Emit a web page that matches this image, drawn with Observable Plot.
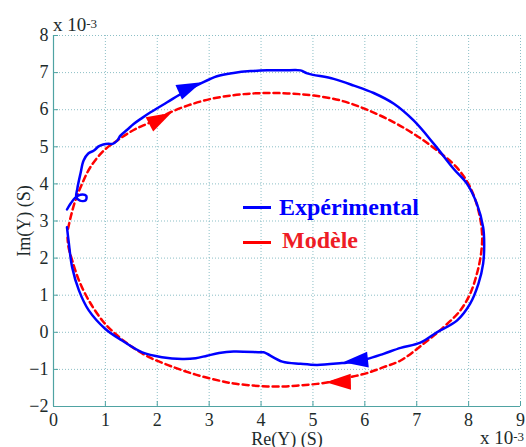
<!DOCTYPE html>
<html><head><meta charset="utf-8">
<script src="https://cdn.jsdelivr.net/npm/d3@7"></script>
<script src="https://cdn.jsdelivr.net/npm/@observablehq/plot@0.6"></script>
<style>
body{margin:0;background:#fff;font-family:"Times New Roman",Times,"Liberation Serif",Tinos,"DejaVu Serif",serif;}
#wrap{position:relative;width:526px;height:447px;font-family:"Times New Roman",Times,"Liberation Serif",Tinos,"DejaVu Serif",serif;overflow:hidden;}
#wrap svg, #wrap svg text{font-family:"Times New Roman",Times,"Liberation Serif",Tinos,"DejaVu Serif",serif !important;}
.ov{position:absolute;white-space:nowrap;line-height:1;}
.exp{font-size:19px;color:#1d2b2b;}
.exp sup{font-size:13px;position:relative;top:-3px;vertical-align:baseline;}
.leg{font-size:24px;font-weight:bold;}
.sw{position:absolute;height:3px;}
</style></head><body><div id="wrap"></div>
<script>
// Experimental (blue) curve, clockwise, x in 1e-3 S
const expX = [0.26,0.33,0.42,0.52,0.63,0.62,0.51,0.44,0.46,0.52,0.58,0.67,0.78,0.87,0.96,1.06,1.14,1.23,1.29,1.42,1.55,1.71,1.87,2.19,2.51,2.83,3.15,3.47,3.80,4.12,4.44,4.76,4.89,5.40,5.79,6.17,6.56,6.94,7.33,7.71,7.97,8.16,8.28,8.30,8.28,8.19,8.03,7.78,7.38,7.07,6.69,6.36,6.04,5.72,5.56,5.08,4.76,4.41,4.05,3.99,3.47,3.19,2.96,2.74,2.48,2.09,1.71,1.32,1.00,0.68,0.49,0.36,0.29,0.26];
const expY = [3.31,3.47,3.63,3.71,3.68,3.56,3.55,3.64,3.88,4.28,4.63,4.82,4.90,5.01,5.06,5.08,5.08,5.17,5.30,5.46,5.62,5.78,5.93,6.20,6.47,6.70,6.90,6.99,7.04,7.06,7.06,7.06,6.98,6.83,6.65,6.45,6.16,5.71,5.08,4.41,4.00,3.46,2.83,2.39,1.85,1.31,0.77,0.32,-0.01,-0.28,-0.42,-0.58,-0.72,-0.81,-0.83,-0.88,-0.85,-0.79,-0.54,-0.54,-0.52,-0.56,-0.63,-0.70,-0.72,-0.67,-0.54,-0.22,0.09,0.59,1.13,1.75,2.47,2.83];
// Model (red) curve, clockwise
const modX = [0.28,0.33,0.42,0.55,0.71,0.97,1.23,1.42,1.61,1.87,2.19,2.58,3.03,3.47,3.86,4.24,4.63,5.02,5.53,6.04,6.56,6.94,7.33,7.78,8.03,8.19,8.26,8.24,8.16,8.03,7.84,7.52,7.13,6.69,6.36,6.04,5.72,5.40,5.08,4.76,4.44,4.12,3.80,3.47,3.25,2.74,2.22,1.84,1.52,1.19,0.94,0.68,0.49,0.36,0.29,0.27];
const modY = [2.79,3.10,3.55,4.00,4.45,4.90,5.17,5.35,5.50,5.66,5.89,6.11,6.29,6.39,6.44,6.45,6.43,6.38,6.25,6.00,5.66,5.35,4.97,4.43,3.91,3.28,2.65,2.12,1.58,1.04,0.59,0.14,-0.31,-0.76,-0.94,-1.10,-1.21,-1.32,-1.39,-1.43,-1.46,-1.46,-1.43,-1.38,-1.32,-1.14,-0.89,-0.67,-0.40,-0.04,0.32,0.86,1.40,1.94,2.29,2.55];
// Direction arrows
const arrowSeries = ["exp","mod","exp","mod"];
const arrowX = [2.56,1.99,5.90,5.57];
const arrowY = [6.56,5.71,-0.76,-1.34];
const arrowAngle = [66,62,-96,-91];
const xTicks = [0,1,2,3,4,5,6,7,8,9];
const yTicks = [-2,-1,0,1,2,3,4,5,6,7,8];
const seriesNames = ["Expérimental","Modèle"];
const BLUE = "#0000ff", RED = "#ff0000";

const expData = expX.map((x,i)=>({x, y: expY[i]}));
const modData = modX.map((x,i)=>({x, y: modY[i]}));
const arrows = arrowX.map((x,i)=>({x, y: arrowY[i], a: arrowAngle[i], s: arrowSeries[i]}));

const arrowHead = {draw(ctx, size){
  const r = Math.sqrt(size/Math.PI);
  const L = 2.5*r, w = 0.8*r;
  ctx.moveTo(0, -2*L/3); ctx.lineTo(w, L/3); ctx.lineTo(-w, L/3); ctx.closePath();
}};

const axisColor = "#4fa3a3";
const textColor = "#1d2b2b";
const serif = '"Times New Roman", Times, "Liberation Serif", Tinos, "DejaVu Serif", serif';

const chart = Plot.plot({
  width: 526, height: 447,
  marginLeft: 53, marginRight: 6, marginTop: 35, marginBottom: 41,
  style: {fontFamily: serif, fontSize: "17px", background: "#fff", color: textColor},
  x: {domain: [0,9]},
  y: {domain: [-2,8]},
  marks: [
    Plot.gridX(xTicks, {stroke: "#7fb8c0", strokeOpacity: 0.9, strokeDasharray: "1,2"}),
    Plot.gridY(yTicks, {stroke: "#7fb8c0", strokeOpacity: 0.9, strokeDasharray: "1,2"}),
    Plot.axisX(xTicks, {tickSize: -5, tickPadding: 12, stroke: axisColor, fill: textColor, fontSize: 18, fontFamily: serif, label: "Re(Y) (S)", labelAnchor: "center", labelOffset: 38, labelArrow: "none"}),
    Plot.axisY(yTicks, {tickSize: -5, tickPadding: 10, stroke: axisColor, fill: textColor, fontSize: 18, fontFamily: serif, label: "Im(Y) (S)", labelAnchor: "center", labelOffset: 36, labelArrow: "none"}),
    Plot.ruleY([-2], {stroke: axisColor, strokeWidth: 1.2}),
    Plot.ruleX([0], {stroke: axisColor, strokeWidth: 1.2}),
    Plot.line(modData, {x: "x", y: "y", stroke: RED, strokeWidth: 2.5, strokeDasharray: "6,4", curve: "catmull-rom"}),
    Plot.line(expData, {x: "x", y: "y", stroke: BLUE, strokeWidth: 2.5, curve: "catmull-rom"}),
    Plot.dot(arrows, {x: "x", y: "y", r: 10, rotate: "a", symbol: arrowHead, fill: d => d.s === "exp" ? BLUE : RED, stroke: "none"})
  ]
});

const wrap = document.getElementById("wrap");
wrap.appendChild(chart);

function ov(html, cls, left, top, color){
  const d = document.createElement("div");
  d.className = "ov " + cls; d.innerHTML = html;
  d.style.left = left + "px"; d.style.top = top + "px";
  if (color) d.style.color = color;
  wrap.appendChild(d);
}
ov("x 10<sup>-3</sup>", "exp", 53, 15);
ov("x 10<sup>-3</sup>", "exp", 480, 428);
function sw(left, top, color){
  const d = document.createElement("div");
  d.className = "sw"; d.style.left = left+"px"; d.style.top = top+"px"; d.style.width = "28px"; d.style.background = color;
  wrap.appendChild(d);
}
sw(243, 206, BLUE);
sw(243, 241, RED);
ov(seriesNames[0], "leg", 279, 195, BLUE);
ov(seriesNames[1], "leg", 282, 228, "#ee1c25");
</script>
</body></html>
